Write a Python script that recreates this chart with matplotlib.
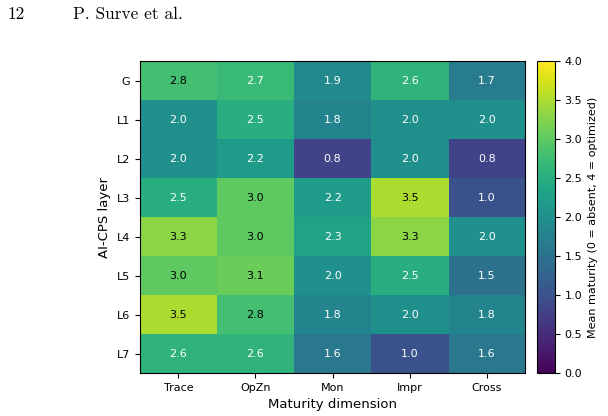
import matplotlib
matplotlib.use('Agg')
from matplotlib import pyplot as plt
import numpy as np

# Maturity heatmap data
layers = ['G', 'L1', 'L2', 'L3', 'L4', 'L5', 'L6', 'L7']
dimensions = ['Trace', 'OpZn', 'Mon', 'Impr', 'Cross']
scores = [
    [2.8, 2.7, 1.9, 2.6, 1.7],
    [2.0, 2.5, 1.8, 2.0, 2.0],
    [2.0, 2.2, 0.8, 2.0, 0.8],
    [2.5, 3.0, 2.2, 3.5, 1.0],
    [3.3, 3.0, 2.3, 3.3, 2.0],
    [3.0, 3.1, 2.0, 2.5, 1.5],
    [3.5, 2.8, 1.8, 2.0, 1.8],
    [2.6, 2.6, 1.6, 1.0, 1.6],
]

data = np.array(scores)

fig = plt.figure(figsize=(6.08, 4.16), dpi=100)
ax = fig.add_axes([0.230, 0.103, 0.634, 0.750])
cax = fig.add_axes([0.883, 0.103, 0.0296, 0.750])

im = ax.imshow(data, cmap='viridis', vmin=0, vmax=4, aspect='auto')

ax.set_xticks(range(len(dimensions)))
ax.set_xticklabels(dimensions, fontsize=8)
ax.set_yticks(range(len(layers)))
ax.set_yticklabels(layers, fontsize=8)
ax.set_xlabel('Maturity dimension', fontsize=9.5)
ax.set_ylabel('AI-CPS layer', fontsize=9.5)

# annotate cells
for i in range(data.shape[0]):
    for j in range(data.shape[1]):
        v = data[i, j]
        color = 'black' if v > 2.75 else 'white'
        ax.text(j, i, f'{v:.1f}', ha='center', va='center', color=color, fontsize=8)

cb = fig.colorbar(im, cax=cax)
cb.set_ticks([0.0, 0.5, 1.0, 1.5, 2.0, 2.5, 3.0, 3.5, 4.0])
cb.ax.tick_params(labelsize=8)
cb.set_label('Mean maturity (0 = absent, 4 = optimized)', fontsize=8)

# page header
fig.text(0.012, 0.965, '12', fontfamily='cmr10', fontsize=12.5, va='center')
fig.text(0.120, 0.965, 'P. Surve et al.', fontfamily='cmr10', fontsize=12.5, va='center')

plt.savefig('out.png', dpi=100)
plt.close()
